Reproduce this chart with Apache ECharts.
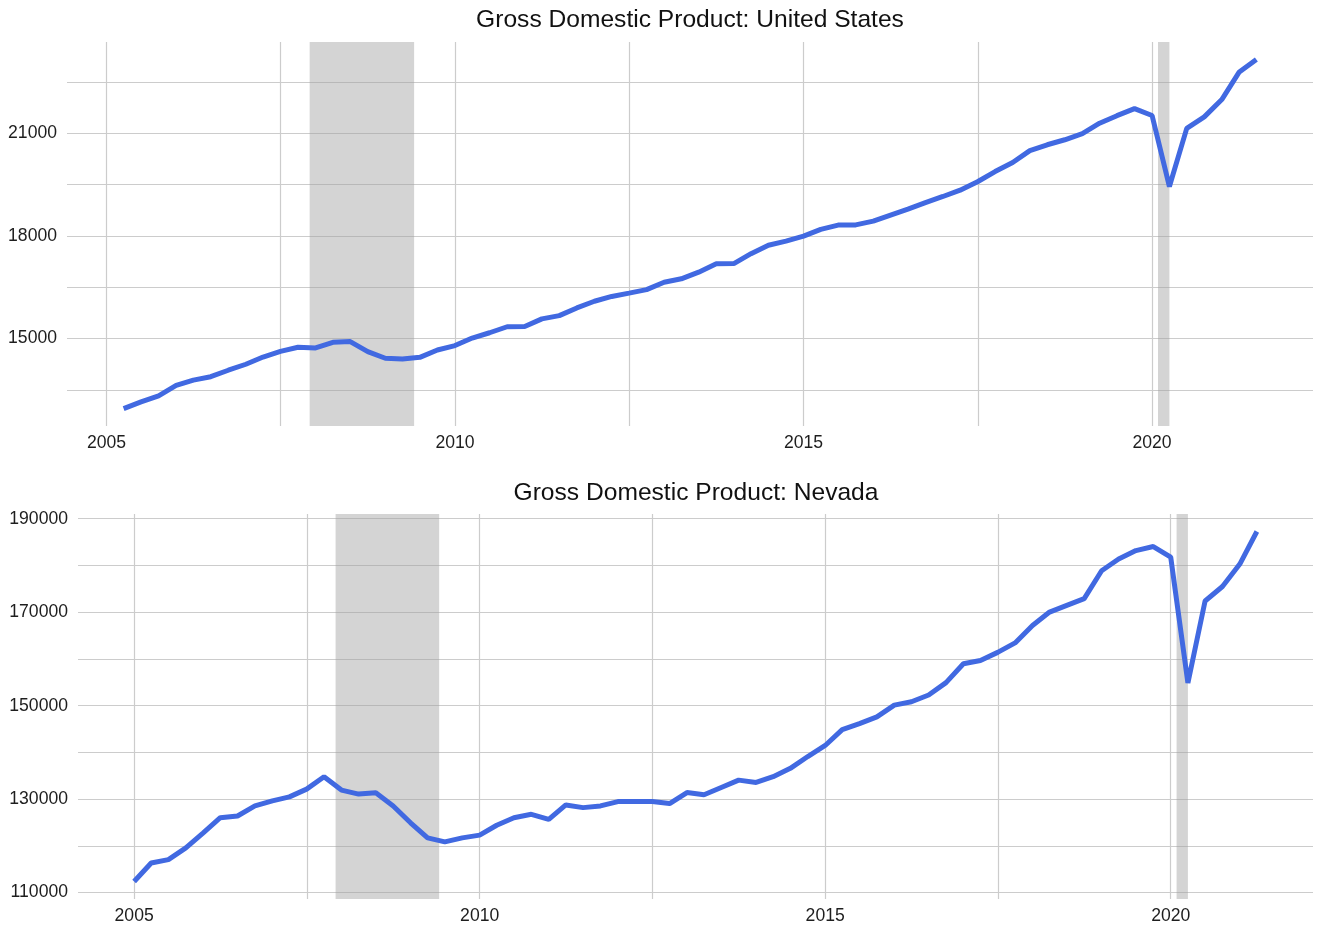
<!DOCTYPE html>
<html>
<head>
<meta charset="utf-8">
<title>Gross Domestic Product</title>
<script src="https://cdn.jsdelivr.net/npm/echarts@6/dist/echarts.min.js"></script>
<style>
  html, body { margin: 0; padding: 0; background: #fff; }
  #main { width: 1317px; height: 926px; }
</style>
</head>
<body>
<div id="main"></div>
<script>
// quarterly GDP
var usQuarters = [
  '2005-04-01', '2005-07-01', '2005-10-01',
  '2006-01-01', '2006-04-01', '2006-07-01', '2006-10-01',
  '2007-01-01', '2007-04-01', '2007-07-01', '2007-10-01',
  '2008-01-01', '2008-04-01', '2008-07-01', '2008-10-01',
  '2009-01-01', '2009-04-01', '2009-07-01', '2009-10-01',
  '2010-01-01', '2010-04-01', '2010-07-01', '2010-10-01',
  '2011-01-01', '2011-04-01', '2011-07-01', '2011-10-01',
  '2012-01-01', '2012-04-01', '2012-07-01', '2012-10-01',
  '2013-01-01', '2013-04-01', '2013-07-01', '2013-10-01',
  '2014-01-01', '2014-04-01', '2014-07-01', '2014-10-01',
  '2015-01-01', '2015-04-01', '2015-07-01', '2015-10-01',
  '2016-01-01', '2016-04-01', '2016-07-01', '2016-10-01',
  '2017-01-01', '2017-04-01', '2017-07-01', '2017-10-01',
  '2018-01-01', '2018-04-01', '2018-07-01', '2018-10-01',
  '2019-01-01', '2019-04-01', '2019-07-01', '2019-10-01',
  '2020-01-01', '2020-04-01', '2020-07-01', '2020-10-01',
  '2021-01-01', '2021-04-01', '2021-07-01'
];
var usGdp = [
  12956, 13150, 13328,
  13630, 13785, 13886, 14075,
  14250, 14460, 14625, 14745,
  14727, 14890, 14912, 14619,
  14425, 14400, 14452, 14665,
  14795, 15015, 15170, 15345,
  15352, 15575, 15670, 15895,
  16090, 16230, 16328, 16428,
  16645, 16745, 16940, 17185,
  17190, 17480, 17727, 17845,
  17991, 18188, 18314, 18320,
  18431, 18607, 18780, 18968,
  19150, 19335, 19580, 19877,
  20141, 20490, 20660, 20806,
  20985, 21290, 21510, 21716,
  21515, 19440, 21138, 21475,
  21980, 22775, 23152
];

var nvQuarters = [
  '2005-01-01', '2005-04-01', '2005-07-01', '2005-10-01',
  '2006-01-01', '2006-04-01', '2006-07-01', '2006-10-01',
  '2007-01-01', '2007-04-01', '2007-07-01', '2007-10-01',
  '2008-01-01', '2008-04-01', '2008-07-01', '2008-10-01',
  '2009-01-01', '2009-04-01', '2009-07-01', '2009-10-01',
  '2010-01-01', '2010-04-01', '2010-07-01', '2010-10-01',
  '2011-01-01', '2011-04-01', '2011-07-01', '2011-10-01',
  '2012-01-01', '2012-04-01', '2012-07-01', '2012-10-01',
  '2013-01-01', '2013-04-01', '2013-07-01', '2013-10-01',
  '2014-01-01', '2014-04-01', '2014-07-01', '2014-10-01',
  '2015-01-01', '2015-04-01', '2015-07-01', '2015-10-01',
  '2016-01-01', '2016-04-01', '2016-07-01', '2016-10-01',
  '2017-01-01', '2017-04-01', '2017-07-01', '2017-10-01',
  '2018-01-01', '2018-04-01', '2018-07-01', '2018-10-01',
  '2019-01-01', '2019-04-01', '2019-07-01', '2019-10-01',
  '2020-01-01', '2020-04-01', '2020-07-01', '2020-10-01',
  '2021-01-01', '2021-04-01'
];
var nvGdp = [
  112370, 116320, 117050, 119550,
  122790, 126020, 126390, 128540,
  129620, 130480, 132140, 134800,
  131930, 131070, 131350, 128540,
  124940, 121710, 120840, 121710,
  122300, 124400, 126020, 126750,
  125670, 128760, 128180, 128540,
  129470, 129470, 129470, 129040,
  131410, 130920, 132490, 134060,
  133570, 134800, 136580, 139110,
  141480, 144870, 146160, 147600,
  150120, 150840, 152280, 154930,
  158960, 159680, 161400, 163430,
  167160, 170030, 171470, 172920,
  178870, 181390, 183190, 184050,
  181770, 154860, 172400, 175490,
  180300, 187270
];

// recession periods (shaded)
var recessionStart = ['2007-12-01', '2020-02-01'];
var recessionEnd = ['2009-06-01', '2020-04-01'];

// grid lines and labels (years)
var yearBreaks = [2005, 2007.5, 2010, 2012.5, 2015, 2017.5, 2020];
var yearLabels = [2005, 2010, 2015, 2020];
var usYBreaks = [13500, 15000, 16500, 18000, 19500, 21000, 22500];
var usYLabels = [15000, 18000, 21000];
var nvYBreaks = [110000, 120000, 130000, 140000, 150000, 160000, 170000, 180000, 190000];
var nvYLabels = [110000, 130000, 150000, 170000, 190000];

var titles = ['Gross Domestic Product: United States', 'Gross Domestic Product: Nevada'];

// date string -> fractional year
function yr(d) {
  var p = d.split('-');
  var y = +p[0];
  var t = Date.UTC(y, +p[1] - 1, +p[2]);
  var a = Date.UTC(y, 0, 1), b = Date.UTC(y + 1, 0, 1);
  return y + (t - a) / (b - a);
}
function expand(lo, hi) {
  var pad = (hi - lo) * 0.05;
  return [lo - pad, hi + pad];
}
function plain(v) { return String(Math.round(v)); }

var FONT = '"Liberation Sans", Arial, sans-serif';
var gridColor = '#cccccc';
var labelStyle = { color: '#1e1e1e', fontSize: 17.6, fontFamily: FONT, formatter: plain };

function xAxisFor(idx, dates) {
  var r = expand(yr(dates[0]), yr(dates[dates.length - 1]));
  return {
    type: 'value', gridIndex: idx, min: r[0], max: r[1],
    axisLine: { show: false }, axisTick: { show: false, customValues: yearBreaks },
    splitLine: { show: true, lineStyle: { color: gridColor, width: 1.2 } },
    axisLabel: Object.assign({ customValues: yearLabels, margin: 8 }, labelStyle)
  };
}
function yAxisFor(idx, vals, breaks, labels) {
  var r = expand(Math.min.apply(null, vals), Math.max.apply(null, vals));
  return {
    type: 'value', gridIndex: idx, min: r[0], max: r[1],
    axisLine: { show: false }, axisTick: { show: false, customValues: breaks },
    splitLine: { show: true, lineStyle: { color: gridColor, width: 1.2 } },
    axisLabel: Object.assign({ customValues: labels, margin: 10 }, labelStyle)
  };
}
function lineSeries(idx, dates, vals) {
  return {
    type: 'line', xAxisIndex: idx, yAxisIndex: idx,
    data: dates.map(function (d, i) { return [yr(d), vals[i]]; }),
    showSymbol: false, symbol: 'none',
    lineStyle: { color: '#4169E1', width: 5 },
    emphasis: { disabled: true },
    markArea: {
      silent: true,
      itemStyle: { color: 'rgba(160,160,160,0.45)' },
      data: recessionStart.map(function (s, i) {
        return [{ xAxis: yr(s) }, { xAxis: yr(recessionEnd[i]) }];
      })
    }
  };
}

var titleText = { fontSize: 24.6, fontWeight: 'normal', color: '#111', fontFamily: FONT };

var chart = echarts.init(document.getElementById('main'));
chart.setOption({
  backgroundColor: '#fff',
  animation: false,
  title: [
    { text: titles[0], left: 690, top: 20, padding: 0, textAlign: 'center', textVerticalAlign: 'middle', textStyle: titleText },
    { text: titles[1], left: 696, top: 493, padding: 0, textAlign: 'center', textVerticalAlign: 'middle', textStyle: titleText }
  ],
  grid: [
    { left: 67, right: 4, top: 42, height: 384 },
    { left: 78, right: 4, top: 514, height: 385 }
  ],
  xAxis: [xAxisFor(0, usQuarters), xAxisFor(1, nvQuarters)],
  yAxis: [yAxisFor(0, usGdp, usYBreaks, usYLabels), yAxisFor(1, nvGdp, nvYBreaks, nvYLabels)],
  series: [lineSeries(0, usQuarters, usGdp), lineSeries(1, nvQuarters, nvGdp)]
});
</script>
</body>
</html>
